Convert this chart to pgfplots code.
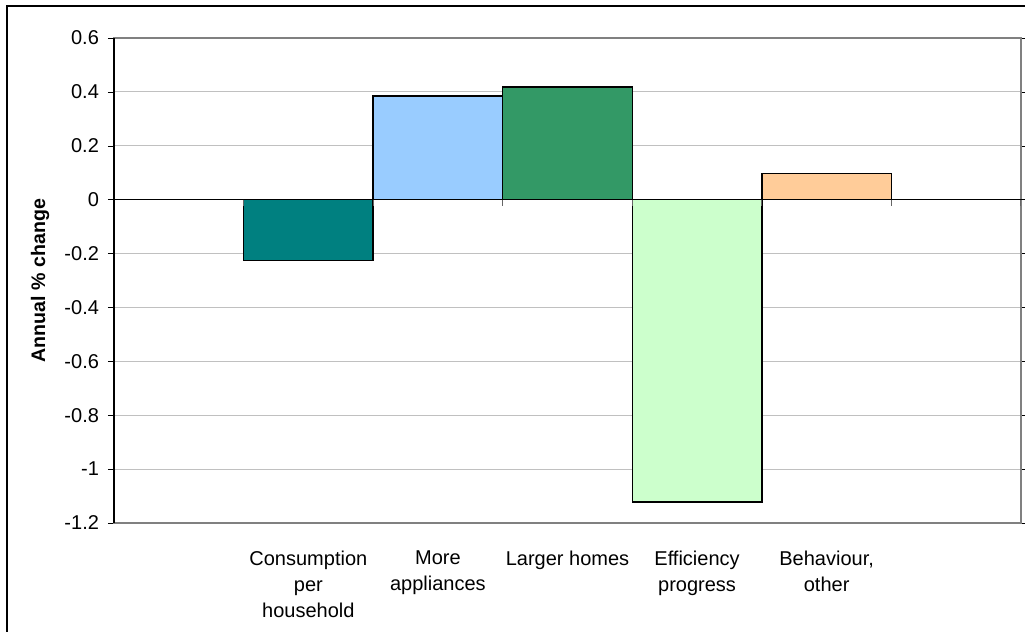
\documentclass[border=0pt]{standalone}
\usepackage{pgfplots}
\pgfplotsset{compat=1.18}
\usepackage{fontspec}
\setmainfont{Liberation Sans}

\definecolor{cTeal}{HTML}{008080}
\definecolor{cSky}{HTML}{99CCFF}
\definecolor{cSea}{HTML}{339966}
\definecolor{cMint}{HTML}{CCFFCC}
\definecolor{cPeach}{HTML}{FFCC99}
\definecolor{gridgray}{HTML}{C0C0C0}

\begin{document}
% 1 px of the reference = 0.5pt
\begin{tikzpicture}
\useasboundingbox (-57pt,-54.5pt) rectangle (455.5pt,261.5pt);
\draw[black, line width=1pt] (-53.5pt,-60pt) -- (-53.5pt,258.5pt) -- (460pt,258.5pt);
\begin{axis}[
    scale only axis,
    width=453.5pt, height=242.5pt,
    xmin=-0.5, xmax=6.5,
    ymin=-1.2, ymax=0.6,
    font=\fontsize{10}{13}\selectfont,
    xtick={1,2,3,4,5},
    xticklabels={{Consumption\\per\\household}, {More\\appliances}, {Larger homes}, {Efficiency\\progress}, {Behaviour,\\other}},
    x tick label style={align=center, yshift=-7.5pt},
    major x tick style={draw=none},
    ytick={-1.2,-1,-0.8,-0.6,-0.4,-0.2,0.2,0.4,0.6},
    extra y ticks={0},
    extra y tick style={grid style={black, line width=0.7pt}},
    yticklabel style={/pgf/number format/fixed, /pgf/number format/assume math mode=true, xshift=-1pt},
    extra y tick labels={0},
    ymajorgrids,
    grid style={gridgray, line width=0.6pt},
    tick align=outside,
    major tick length=3pt,
    y tick style={black},
    axis line style={gray, line width=0.6pt},
    ylabel={\fontsize{9.8}{11}\selectfont\bfseries Annual \% change},
    ylabel style={at={(axis description cs:-0.0816,0.5)}, anchor=center},
    clip=false,
]
\addplot[ybar, bar width=1, bar shift=0pt, fill=cTeal, draw=black, line width=0.7pt] coordinates {(1,-0.225)};
\addplot[ybar, bar width=1, bar shift=0pt, fill=cSky, draw=black, line width=0.7pt] coordinates {(2,0.385)};
\addplot[ybar, bar width=1, bar shift=0pt, fill=cSea, draw=black, line width=0.7pt] coordinates {(3,0.418)};
\addplot[ybar, bar width=1, bar shift=0pt, fill=cMint, draw=black, line width=0.7pt] coordinates {(4,-1.122)};
\addplot[ybar, bar width=1, bar shift=0pt, fill=cPeach, draw=black, line width=0.7pt] coordinates {(5,0.096)};
\pgfplotsinvokeforeach{0.5,1.5,2.5,3.5,4.5,5.5,6.5}{
  \draw[gray!80!black, line width=0.5pt] (axis cs:#1,0) -- ([yshift=-3pt]axis cs:#1,0);
}
\draw[black, line width=0.7pt] (rel axis cs:0,0) -- (rel axis cs:0,1);
\end{axis}
\end{tikzpicture}
\end{document}
